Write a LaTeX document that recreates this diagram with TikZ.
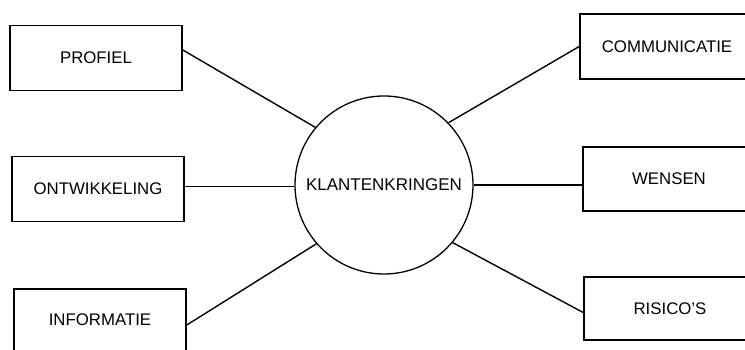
\documentclass[tikz,border=0pt]{standalone}
\usepackage{fontspec}
\setmainfont{Liberation Sans}
\begin{document}
\begin{tikzpicture}[x=1pt,y=-1pt,
  box/.style={draw,line width=1.6pt,minimum width=172pt,minimum height=65pt,inner sep=0pt,font=\fontsize{16.8}{19}\selectfont},
  hub/.style={draw,circle,line width=1.3pt,minimum size=178pt,inner sep=0pt,font=\fontsize{17}{19}\selectfont},
  link/.style={line width=1.4pt}]
\useasboundingbox (0,0) rectangle (745,350);
\clip (0,0) rectangle (745,350);
\node[hub] (k) at (384,185) {KLANTENKRINGEN};
\node[box] (p) at (96,58) {PROFIEL};
\node[box] (o) at (98,189) {ONTWIKKELING};
\node[box,minimum height=62pt] (i) at (100,320) {INFORMATIE};
\node[box,minimum width=174pt] (c) at (667,46.5) {COMMUNICATIE};
\node[box,minimum height=64pt] (w) at (669,179) {WENSEN};
\node[box,minimum height=63pt] (r) at (670,308.5) {RISICO'S};
\draw[link] ([yshift=8pt]p.east) -- (k.140.8);
\draw[link] (k.181) -- (k.181 -| o.east);
\draw[link] ([yshift=-5pt]i.east) -- (k.221.8);
\draw[link] (c.west) -- (k.44.5);
\draw[link] (k.0) -- (k.0 -| w.west);
\draw[link] ([yshift=-4pt]r.west) -- (k.320.4);
\end{tikzpicture}
\end{document}
